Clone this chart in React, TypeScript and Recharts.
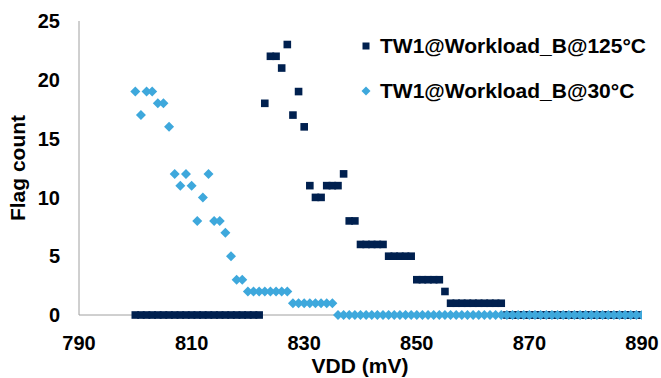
import { Label, Scatter, ScatterChart, XAxis, YAxis } from 'recharts'

// VDD sweep in mV
const vdd = [
  800, 801, 802, 803, 804, 805, 806, 807, 808, 809,
  810, 811, 812, 813, 814, 815, 816, 817, 818, 819,
  820, 821, 822, 823, 824, 825, 826, 827, 828, 829,
  830, 831, 832, 833, 834, 835, 836, 837, 838, 839,
  840, 841, 842, 843, 844, 845, 846, 847, 848, 849,
  850, 851, 852, 853, 854, 855, 856, 857, 858, 859,
  860, 861, 862, 863, 864, 865, 866, 867, 868, 869,
  870, 871, 872, 873, 874, 875, 876, 877, 878, 879,
  880, 881, 882, 883, 884, 885, 886, 887, 888, 889,
  890,
]

const flags125 = [
  0, 0, 0, 0, 0, 0, 0, 0, 0, 0,
  0, 0, 0, 0, 0, 0, 0, 0, 0, 0,
  0, 0, 0, 18, 22, 22, 21, 23, 17, 19,
  16, 11, 10, 10, 11, 11, 11, 12, 8, 8,
  6, 6, 6, 6, 6, 5, 5, 5, 5, 5,
  3, 3, 3, 3, 3, 2, 1, 1, 1, 1,
  1, 1, 1, 1, 1, 1, 0, 0, 0, 0,
  0, 0, 0, 0, 0, 0, 0, 0, 0, 0,
  0, 0, 0, 0, 0, 0, 0, 0, 0, 0,
  0,
]

const flags30 = [
  19, 17, 19, 19, 18, 18, 16, 12, 11, 12,
  11, 8, 10, 12, 8, 8, 7, 5, 3, 3,
  2, 2, 2, 2, 2, 2, 2, 2, 1, 1,
  1, 1, 1, 1, 1, 1, 0, 0, 0, 0,
  0, 0, 0, 0, 0, 0, 0, 0, 0, 0,
  0, 0, 0, 0, 0, 0, 0, 0, 0, 0,
  0, 0, 0, 0, 0, 0, 0, 0, 0, 0,
  0, 0, 0, 0, 0, 0, 0, 0, 0, 0,
  0, 0, 0, 0, 0, 0, 0, 0, 0, 0,
  0,
]

const xTicks = [790, 810, 830, 850, 870, 890]
const yTicks = [0, 5, 10, 15, 20, 25]

const NAVY = '#00204f'
const BLUE = '#3ea8dc'
const FONT = '"Liberation Sans", Arial, sans-serif'

const hotData = vdd.map((v, i) => ({ vdd: v, flags: flags125[i] }))
const coldData = vdd.map((v, i) => ({ vdd: v, flags: flags30[i] }))

const SquareDot = (props: any) => {
  const { cx, cy } = props
  if (cx == null || cy == null) return null
  return <rect x={cx - 3.8} y={cy - 3.8} width={7.6} height={7.6} fill={NAVY} />
}

const DiamondDot = (props: any) => {
  const { cx, cy } = props
  if (cx == null || cy == null) return null
  const r = 5
  return <polygon points={`${cx},${cy - r} ${cx + r},${cy} ${cx},${cy + r} ${cx - r},${cy}`} fill={BLUE} />
}

const legendItems = [
  { name: 'TW1@Workload_B@125°C', kind: 'square' },
  { name: 'TW1@Workload_B@30°C', kind: 'diamond' },
]

function ChartLegend() {
  return (
    <div
      style={{
        position: 'absolute',
        left: 358,
        top: 23,
        fontFamily: FONT,
        fontWeight: 'bold',
        fontSize: 21,
        color: '#000',
      }}
    >
      {legendItems.map((item) => (
        <div key={item.name} style={{ display: 'flex', alignItems: 'center', height: 45 }}>
          <svg width={16} height={16} style={{ marginRight: 6 }}>
            {item.kind === 'square' ? (
              <rect x={4.5} y={4.5} width={7} height={7} fill={NAVY} />
            ) : (
              <polygon points="8,3.5 12.5,8 8,12.5 3.5,8" fill={BLUE} />
            )}
          </svg>
          <span>{item.name}</span>
        </div>
      ))}
    </div>
  )
}

export default function App() {
  const tickStyle = { fontFamily: FONT, fontWeight: 'bold', fontSize: 20, fill: '#000' }
  return (
    <div style={{ position: 'absolute', left: 0, top: 0, width: 661, height: 378, background: '#fff' }}>
      <ScatterChart width={661} height={378} margin={{ top: 21, right: 19, bottom: 0, left: 0 }}>
        <XAxis
          type="number"
          dataKey="vdd"
          domain={[790, 890]}
          ticks={xTicks}
          height={63}
          tickLine={false}
          tickSize={0}
          tickMargin={21}
          axisLine={{ stroke: '#a0a0a0' }}
          tick={tickStyle}
          allowDataOverflow
        >
          <Label
            content={() => (
              <text x={360} y={373} textAnchor="middle" style={{ ...tickStyle, fontSize: 21 }}>
                VDD (mV)
              </text>
            )}
          />
        </XAxis>
        <YAxis
          type="number"
          dataKey="flags"
          domain={[0, 25]}
          ticks={yTicks}
          width={79}
          tickLine={false}
          tickSize={0}
          tickMargin={19}
          axisLine={{ stroke: '#a0a0a0' }}
          tick={tickStyle}
        >
          <Label
            content={() => (
              <text
                x={17}
                y={168}
                textAnchor="middle"
                dominantBaseline="central"
                transform="rotate(-90 17 168)"
                style={{ ...tickStyle, fontSize: 21 }}
              >
                Flag count
              </text>
            )}
          />
        </YAxis>
        <Scatter name="TW1@Workload_B@125°C" data={hotData} shape={SquareDot} isAnimationActive={false} />
        <Scatter name="TW1@Workload_B@30°C" data={coldData} shape={DiamondDot} isAnimationActive={false} />
      </ScatterChart>
      <ChartLegend />
    </div>
  )
}
